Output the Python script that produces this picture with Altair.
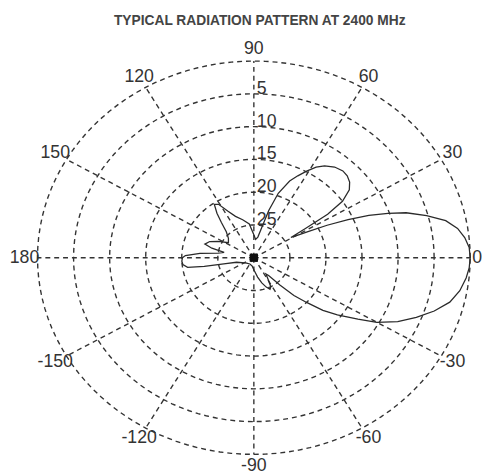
import altair as alt
import pandas as pd

TITLE = "TYPICAL RADIATION PATTERN AT 2400 MHz"

# Radiation pattern: azimuth (deg) and relative gain (dB, 0 = max, -30 = centre)
pattern_deg = [-180, -177, -174, -171, -169, -167, -164, -155, -140, -120, -100, -88,
               -80, -74, -69, -65, -62, -59, -56, -53, -49, -46, -43, -40, -37, -33,
               -30, -26, -22, -18, -14, -10, -6, -3, 0, 3, 6, 9, 12, 15, 18, 20, 22,
               24, 26, 28, 30, 31, 32, 33, 35, 38, 41, 44, 47, 51, 55, 58, 61, 64, 67,
               71, 74, 77, 80, 85, 90, 97, 105, 112, 117, 121, 124, 127, 130, 134,
               140, 147, 153, 158, 163, 166, 169, 172, 175, 178, 180]
pattern_db = [-20.1, -20.0, -20.1, -20.7, -23.0, -26.0, -27.5, -28.2, -28.7, -28.9,
              -28.7, -28.0, -27.0, -26.0, -25.2, -24.7, -25.0, -26.2, -27.0, -26.6,
              -24.5, -22.0, -20.0, -17.5, -15.5, -12.8, -10.3, -7.8, -5.7, -3.7,
              -2.0, -1.0, -0.4, -0.1, 0.0, -0.1, -0.6, -1.4, -2.8, -5.2, -7.8,
              -10.2, -12.8, -15.7, -18.7, -21.5, -23.4, -24.0, -21.5, -17.8, -15.0,
              -13.2, -12.4, -12.0, -11.9, -12.2, -12.9, -13.7, -14.9, -16.1, -17.3,
              -19.6, -22.5, -25.5, -26.8, -27.2, -26.5, -24.8, -24.0, -23.2, -22.0,
              -20.5, -20.2, -21.5, -23.0, -24.5, -25.4, -25.8, -24.5, -23.4, -22.9,
              -24.0, -25.8, -25.0, -22.5, -20.5, -20.1]

ring_db = [-25, -20, -15, -10, -5, 0]
ring_labels = ["25", "20", "15", "10", "5"]
ring_label_db = [-25, -20, -15, -10, -5]
spoke_deg = [0, 30, 60, 90, 120, 150, 180, 210, 240, 270, 300, 330]
angle_label_deg = [30, 60, 90, 120, 150, 180, -150, -120, -90, -60, -30]
angle_labels = ["30", "60", "90", "120", "150", "180", "-150", "-120", "-90", "-60", "-30"]

FLOOR = 30.0
W, H = 482, 467
CX, CY = 250, 250
UX, UY = 220 / 30.0, 200 / 30.0
xs = alt.Scale(domain=[-CX / UX, (W - CX) / UX], nice=False, zero=False)
ys = alt.Scale(domain=[-(H - CY) / UY, CY / UY], nice=False, zero=False)
X = lambda f: alt.X(f, type="quantitative", scale=xs, axis=None)
Y = lambda f: alt.Y(f, type="quantitative", scale=ys, axis=None)

INK = "#333333"
FONT = "Liberation Sans"
FS = 18

# grid rings
ring_rows = [{"ring": d, "deg": a} for d in ring_db for a in range(0, 361, 3)]
rings = alt.Chart(pd.DataFrame(ring_rows)).transform_calculate(
    r=f"datum.ring + {FLOOR}",
    x="datum.r * cos(datum.deg * PI / 180)",
    y="datum.r * sin(datum.deg * PI / 180)",
).mark_line(color=INK, strokeWidth=1.4, strokeDash=[5, 4]).encode(
    x=X("x"), y=Y("y"), detail="ring:N", order="deg:Q"
)

spokes = alt.Chart(pd.DataFrame({"deg": spoke_deg})).transform_calculate(
    x0="0", y0="0",
    x1=f"{FLOOR} * cos(datum.deg * PI / 180)",
    y1=f"{FLOOR} * sin(datum.deg * PI / 180)",
).mark_rule(color=INK, strokeWidth=1.4, strokeDash=[5, 4]).encode(
    x=X("x0"), y=Y("y0"), x2="x1:Q", y2="y1:Q"
)

pat_df = pd.DataFrame({"deg": pattern_deg, "db": pattern_db, "i": range(len(pattern_deg))})
pattern = alt.Chart(pat_df).transform_calculate(
    r=f"max(datum.db + {FLOOR}, 0)",
    x="datum.r * cos(datum.deg * PI / 180)",
    y="datum.r * sin(datum.deg * PI / 180)",
).mark_line(color="#2a2a2a", strokeWidth=1.3).encode(
    x=X("x"), y=Y("y"), order="i:Q"
)

centre = alt.Chart(pd.DataFrame({"x": [0.0], "y": [0.0]})).mark_square(
    color="#111111", size=70, opacity=1
).encode(x=X("x"), y=Y("y"))

K = 1.06
ang_lab = alt.Chart(pd.DataFrame({"deg": angle_label_deg, "t": angle_labels})).transform_calculate(
    x=f"{K * FLOOR} * cos(datum.deg * PI / 180)",
    y=f"{K * FLOOR} * sin(datum.deg * PI / 180)",
).mark_text(font=FONT, fontSize=FS, color=INK, align="center", baseline="middle").encode(
    x=X("x"), y=Y("y"), text="t:N"
)

zero_lab = alt.Chart(pd.DataFrame({"x": [FLOOR], "y": [0.0], "t": ["0"]})).mark_text(
    font=FONT, fontSize=FS, color=INK, align="left", baseline="middle", dx=2
).encode(x=X("x"), y=Y("y"), text="t:N")

ring_lab = alt.Chart(pd.DataFrame({"db": ring_label_db, "t": ring_labels})).transform_calculate(
    x="0", y=f"datum.db + {FLOOR}"
).mark_text(font=FONT, fontSize=FS, color=INK, align="left", baseline="middle", dx=3, dy=-5).encode(
    x=X("x"), y=Y("y"), text="t:N"
)

title = alt.Chart(pd.DataFrame({"t": [TITLE]})).mark_text(
    font=FONT, fontSize=14, fontWeight="bold", color="#444444", align="center", baseline="middle"
).encode(x=alt.value(256), y=alt.value(9), text="t:N")

chart = alt.layer(rings, spokes, pattern, centre, ang_lab, zero_lab, ring_lab, title).properties(
    width=W, height=H, autosize="none", padding=0
).configure_view(stroke=None)

chart.save("out.html", embed_options={"renderer": "svg", "actions": False})
